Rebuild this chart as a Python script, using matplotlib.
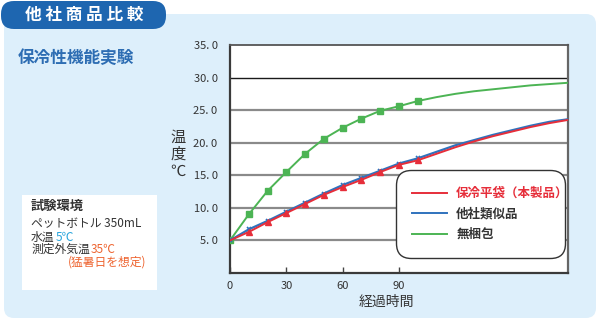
import numpy as np
import matplotlib
matplotlib.use("Agg")
import matplotlib.pyplot as plt
from matplotlib.patches import FancyBboxPatch

plt.rcParams['font.family'] = ['Noto Sans CJK JP', 'DejaVu Sans']

# elapsed time (min) and temperatures
minutes = [0, 10, 20, 30, 40, 50, 60, 70, 80, 90, 100,
           110, 120, 130, 140, 150, 160, 170, 180]
ours = [5.0, 6.3, 7.8, 9.2, 10.6, 12.0, 13.2, 14.3, 15.5, 16.6, 17.3,
        18.3, 19.3, 20.2, 21.0, 21.7, 22.4, 23.0, 23.5]
other = [5.0, 6.7, 8.0, 9.4, 10.8, 12.2, 13.5, 14.6, 15.7, 16.8, 17.6,
         18.6, 19.6, 20.4, 21.2, 21.9, 22.6, 23.2, 23.6]
none_ = [5.0, 9.0, 12.6, 15.5, 18.3, 20.6, 22.3, 23.7, 24.9, 25.6, 26.4,
         27.0, 27.5, 27.9, 28.2, 28.5, 28.8, 29.0, 29.2]

labels = ['保冷平袋（本製品）', '他社類似品', '無梱包']
yticks = [5, 10, 15, 20, 25, 30, 35]
xticks = [0, 30, 60, 90]

RED = '#e62e3a'
BLUE = '#2f72bd'
GREEN = '#4cb454'
PANEL = '#ddeffb'
NAVY = '#1e66b0'

fig = plt.figure(figsize=(6, 3.22), dpi=100)

# background drawn in pixel coordinates
bg = fig.add_axes([0, 0, 1, 1], zorder=0)
bg.set_xlim(0, 600)
bg.set_ylim(322, 0)
bg.axis('off')

bg.add_patch(FancyBboxPatch((4, 14), 592, 304, boxstyle='round,pad=0,rounding_size=10',
                            fc=PANEL, ec='none'))
bg.add_patch(FancyBboxPatch((1, 1), 165, 28, boxstyle='round,pad=0,rounding_size=13',
                            fc=NAVY, ec='none'))
bg.text(84, 15, '他 社 商 品 比 較', color='white', fontsize=12, fontweight='bold',
        ha='center', va='center')
bg.text(18, 58, '保冷性機能実験', color='#2d6db3', fontsize=12, fontweight='bold',
        ha='left', va='center')

# test conditions box
bg.add_patch(plt.Rectangle((22, 195), 135, 95, fc='white', ec='none'))
bg.text(31, 206, '試験環境', fontsize=9.5, fontweight='bold', color='#333333', va='center')
bg.text(31, 224, 'ペットボトル 350mL', fontsize=8.5, color='#333333', va='center')
t1 = bg.text(31, 237, '水温', fontsize=8.5, color='#333333', va='center')
bg.annotate('5℃', xy=(1, 0.5), xycoords=t1, xytext=(1, 0), textcoords='offset points',
            fontsize=8.5, color='#27a4dc', va='center')
t2 = bg.text(31, 249, '測定外気温', fontsize=8.5, color='#333333', va='center')
bg.annotate('35℃', xy=(1, 0.5), xycoords=t2, xytext=(1, 0), textcoords='offset points',
            fontsize=8.5, color='#ee6430', va='center')
bg.text(68, 262, '(猛暑日を想定)', fontsize=8.5, color='#ee6430', va='center')

# main chart
ax = fig.add_axes([230 / 600, 1 - 273 / 322, 338 / 600, 228 / 322], zorder=1)
ax.set_facecolor('white')
ax.set_xlim(0, 180)
ax.set_ylim(0, 35)

for y in yticks[:-1]:
    ax.axhline(y, color='#1a1a1a' if y == 30 else '#8a8a8a',
               lw=1.0 if y == 30 else 1.6, zorder=1)

mk = list(range(11))
ax.plot(minutes, none_, color=GREEN, lw=1.4, marker='s', ms=5, markevery=mk,
        label=labels[2], zorder=3)
ax.plot(minutes, other, color=BLUE, lw=1.6, marker='x', ms=3.5, mew=1.2,
        markevery=mk, label=labels[1], zorder=4)
ax.plot(minutes, ours, color=RED, lw=1.4, marker='^', ms=5, markevery=mk[1:],
        label=labels[0], zorder=5)

ax.set_xticks(xticks)
ax.set_xticklabels([str(x) for x in xticks])
ax.set_yticks(yticks)
ax.set_yticklabels(['%d. 0' % y for y in yticks])
ax.tick_params(axis='x', direction='in', length=4, width=1, color='#444444',
               labelsize=8, labelcolor='#333333', pad=6)
ax.tick_params(axis='y', length=0, labelsize=8, labelcolor='#333333', pad=9)

for side in ['left', 'bottom']:
    ax.spines[side].set_color('#3a3a3a')
    ax.spines[side].set_linewidth(1.6)
ax.spines['top'].set_color('#555555')
ax.spines['top'].set_linewidth(1.3)
ax.spines['right'].set_color('#666666')
ax.spines['right'].set_linewidth(1.6)

bg.text(386, 302, '経過時間', fontsize=10, color='#333333', ha='center', va='center')
bg.text(178, 154, '温\n度\n℃', fontsize=11, color='#333333', ha='center', va='center',
        linespacing=1.0)

handles, names = ax.get_legend_handles_labels()
order = [2, 1, 0]
leg = ax.legend([plt.Line2D([], [], color=h.get_color(), lw=1.4) for h in [handles[i] for i in order]],
                [names[i] for i in order], loc='lower left',
                bbox_to_anchor=(0.49, 0.066, 0.50, 0.386), mode='expand',
                fontsize=9, handlelength=2.8, handletextpad=0.7, labelspacing=0.6,
                borderpad=1.35, borderaxespad=0, frameon=True, framealpha=1)
leg.get_frame().set_boxstyle('round,pad=0,rounding_size=1.2')
leg.get_frame().set_edgecolor('#333333')
leg.get_frame().set_linewidth(1.0)
for txt, c in zip(leg.get_texts(), [RED, '#333333', '#333333']):
    txt.set_color(c)
    txt.set_fontweight('bold')
leg.set_zorder(10)

fig.savefig('out.png', dpi=100)
